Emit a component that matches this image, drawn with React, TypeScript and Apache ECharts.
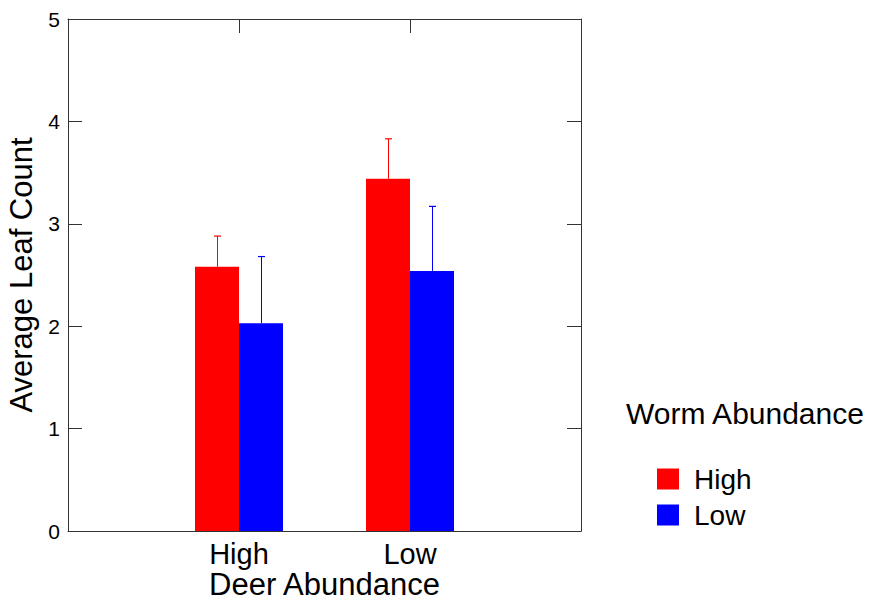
import React, { useEffect, useRef } from "react";
import * as echarts from "echarts";

const deerLevels = ["High", "Low"];
const wormLevels = ["High", "Low"];
const highWormMeans = [2.58, 3.44];
const highWormUpper = [2.88, 3.83];
const lowWormMeans = [2.03, 2.54];
const lowWormUpper = [2.68, 3.17];
const yTicks = [0, 1, 2, 3, 4, 5];

const FONT = "Liberation Sans, Arial, sans-serif";
const AXIS_COLOR = "#333";
const RED = "#ff0000";
const BLUE = "#0000ff";

export default function App() {
  const ref = useRef<HTMLDivElement>(null);
  useEffect(() => {
    if (!ref.current) return;
    const chart = echarts.init(ref.current, undefined, { renderer: "svg" });
    const cats = ["", ...deerLevels, ""];
    const padData = (arr: number[]) => [null, ...arr, null];
    const errData = (means: number[], upper: number[]) =>
      means.map((m, i) => [i + 1, m, upper[i]]);
    const errSeries = (name: string, means: number[], upper: number[], color: string, off: number) => ({
      name,
      type: "custom",
      xAxisIndex: 0,
      yAxisIndex: 0,
      data: errData(means, upper),
      z: 1,
      renderItem: (params: any, api: any) => {
        const x = api.value(0);
        const base = api.coord([x, api.value(1)]);
        const top = api.coord([x, api.value(2)]);
        const cx = Math.round(base[0] + off) + 0.5;
        return {
          type: "group",
          children: [
            {
              type: "line",
              shape: { x1: cx, y1: base[1], x2: cx, y2: top[1] },
              style: { stroke: color, lineWidth: 1 },
            },
            {
              type: "line",
              shape: { x1: cx - 3.5, y1: top[1], x2: cx + 3.5, y2: top[1] },
              style: { stroke: color, lineWidth: 1.2 },
            },
          ],
        };
      },
    });
    const axisLine = { show: true, onZero: false, lineStyle: { color: AXIS_COLOR, width: 1 } };
    chart.setOption({
      animation: false,
      backgroundColor: "#fff",
      textStyle: { fontFamily: FONT },
      title: {
        text: "Worm Abundance",
        left: 626,
        top: 398,
        padding: 0,
        textStyle: { fontFamily: FONT, fontSize: 30, fontWeight: "normal", color: "#000" },
      },
      legend: {
        data: wormLevels,
        orient: "vertical",
        left: 657,
        top: 465,
        padding: 0,
        itemWidth: 22,
        itemHeight: 21,
        itemGap: 8,
        icon: "rect",
        textStyle: { fontFamily: FONT, fontSize: 28, color: "#000", padding: [0, 0, 0, 10] },
      },
      grid: { left: 68, top: 19, width: 513, height: 512, containLabel: false, outerBoundsMode: "none" },
      xAxis: [
        {
          type: "category",
          data: cats,
          boundaryGap: false,
          position: "bottom",
          axisLine,
          axisTick: { show: false },
          axisLabel: { interval: 0, fontSize: 29, lineHeight: 29, color: "#000", fontFamily: FONT, margin: 8 },
          splitLine: { show: false },
          name: "Deer Abundance",
          nameLocation: "middle",
          nameGap: 38,
          nameMoveOverlap: false,
          nameTextStyle: { fontSize: 31, lineHeight: 31, color: "#000", fontFamily: FONT },
        },
        {
          type: "category",
          data: cats,
          boundaryGap: false,
          position: "top",
          axisLine,
          axisTick: { show: true, inside: true, length: 14, lineStyle: { color: AXIS_COLOR } },
          axisLabel: { show: false },
          splitLine: { show: false },
        },
      ],
      yAxis: [
        {
          type: "value",
          min: yTicks[0],
          max: yTicks[yTicks.length - 1],
          interval: 1,
          position: "left",
          axisLine,
          axisTick: { show: true, inside: true, length: 14, lineStyle: { color: AXIS_COLOR } },
          axisLabel: { fontSize: 21, color: "#000", fontFamily: FONT, margin: 8 },
          splitLine: { show: false },
          name: "Average Leaf Count",
          nameLocation: "middle",
          nameGap: 29,
          nameTextStyle: { fontSize: 31, lineHeight: 31, color: "#000", fontFamily: FONT },
        },
        {
          type: "value",
          min: yTicks[0],
          max: yTicks[yTicks.length - 1],
          interval: 1,
          position: "right",
          axisLine,
          axisTick: { show: true, inside: true, length: 14, lineStyle: { color: AXIS_COLOR } },
          axisLabel: { show: false },
          splitLine: { show: false },
        },
      ],
      series: [
        {
          name: wormLevels[0],
          type: "bar",
          data: padData(highWormMeans),
          barWidth: 44,
          barGap: "0%",
          itemStyle: { color: RED },
          z: 2,
        },
        {
          name: wormLevels[1],
          type: "bar",
          data: padData(lowWormMeans),
          barWidth: 44,
          barGap: "0%",
          itemStyle: { color: BLUE },
          z: 2,
        },
        errSeries("High error", highWormMeans, highWormUpper, RED, -22),
        errSeries("Low error", lowWormMeans, lowWormUpper, BLUE, 22),
      ],
    });
    return () => chart.dispose();
  }, []);
  return <div ref={ref} style={{ width: 871, height: 600, position: "absolute", left: 0, top: 0 }} />;
}
